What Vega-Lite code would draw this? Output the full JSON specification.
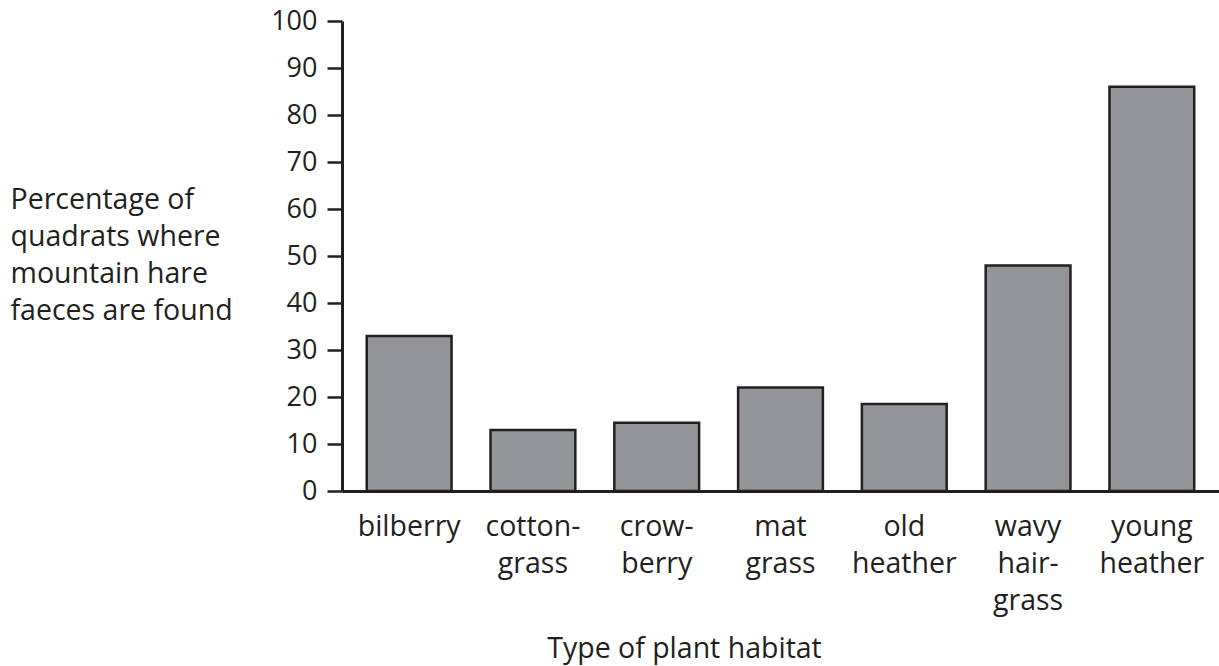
{
  "$schema": "https://vega.github.io/schema/vega-lite/v6.json",
  "autosize": "none",
  "padding": {"left": 342, "top": 21, "right": 0, "bottom": 175},
  "width": 877,
  "height": 470,
  "background": "white",
  "config": {
    "view": {"stroke": null},
    "font": "Open Sans",
    "axis": {
      "labelFont": "Open Sans",
      "titleFont": "Open Sans",
      "labelFontSize": 28.5,
      "titleFontSize": 28.5,
      "labelColor": "#231f20",
      "titleColor": "#231f20",
      "titleFontWeight": "normal",
      "domainColor": "#231f20",
      "domainWidth": 3,
      "tickColor": "#231f20",
      "tickWidth": 2.5,
      "grid": false
    }
  },
  "data": {
    "values": [
      {"habitat": "bilberry", "percent": 33},
      {"habitat": "cotton-grass", "percent": 13},
      {"habitat": "crow-berry", "percent": 14.5},
      {"habitat": "mat grass", "percent": 22},
      {"habitat": "old heather", "percent": 18.5},
      {"habitat": "wavy hair-grass", "percent": 48},
      {"habitat": "young heather", "percent": 86}
    ]
  },
  "mark": {"type": "bar", "fill": "#939598", "stroke": "#231f20", "strokeWidth": 2.5},
  "encoding": {
    "x": {
      "field": "habitat",
      "type": "nominal",
      "sort": null,
      "scale": {"paddingInner": 0.315, "paddingOuter": 0.2},
      "axis": {
        "title": "Type of plant habitat",
        "labelAngle": 0,
        "ticks": false,
        "labelPadding": 21,
        "labelBaseline": "top",
        "labelLineHeight": 37,
        "labelExpr": "split(replace(replace(datum.label, '-', '-|'), ' ', '|'), '|')",
        "titleX": 342,
        "titleY": 166,
        "titleAnchor": "start",
        "titleAlign": "center",
        "titleBaseline": "alphabetic",
        "titlePadding": 0
      }
    },
    "y": {
      "field": "percent",
      "type": "quantitative",
      "scale": {"domain": [0, 100], "nice": false},
      "axis": {
        "values": [0, 10, 20, 30, 40, 50, 60, 70, 80, 90, 100],
        "tickSize": 15,
        "labelPadding": 10,
        "labelFontSize": 27,
        "title": ["Percentage of", "quadrats where", "mountain hare", "faeces are found"],
        "titleAngle": 0,
        "titleAlign": "left",
        "titleBaseline": "alphabetic",
        "titleLineHeight": 37,
        "titleX": -332,
        "titleY": 187,
        "titleAnchor": "start"
      }
    }
  }
}
